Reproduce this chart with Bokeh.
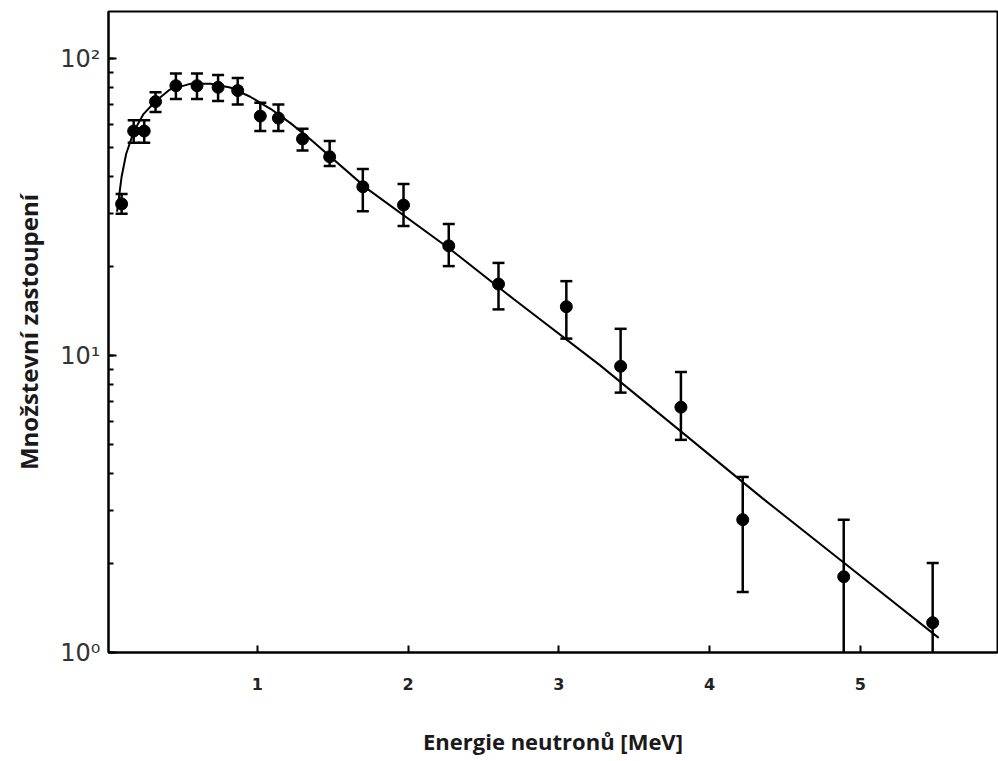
from bokeh.plotting import figure
from bokeh.models import ColumnDataSource, Range1d, FixedTicker, LogTicker, Whisker, TeeHead
from bokeh.embed import file_html
from bokeh.resources import INLINE

# measured points (neutron energy in MeV, relative yield)
energy = [0.10, 0.18, 0.25, 0.325, 0.46, 0.60, 0.74, 0.87, 1.02, 1.14, 1.30, 1.48,
          1.70, 1.97, 2.27, 2.60, 3.05, 3.41, 3.81, 4.22, 4.89, 5.48]
yield_ = [32.4, 57, 57, 71.6, 81, 81, 80, 78, 64, 63, 53.6, 46.7,
          37.0, 32.1, 23.4, 17.4, 14.6, 9.2, 6.7, 2.8, 1.8, 1.26]
upper = [35, 62, 62, 77, 89, 89, 88, 86, 71, 70, 58, 52.8,
         42.5, 37.8, 27.7, 20.5, 17.8, 12.3, 8.8, 3.9, 2.8, 2.0]
lower = [30, 52, 52, 66, 73, 73, 72, 70, 57, 57, 49, 43.5,
         30.6, 27.3, 20.0, 14.3, 11.4, 7.5, 5.2, 1.6, 0.9, 0.9]

# fitted spectrum curve
curve_e = [0.07, 0.10, 0.13, 0.18, 0.245, 0.325, 0.42, 0.56, 0.69, 0.82, 0.95, 1.09,
           1.22, 1.35, 1.73, 2.28, 2.70, 3.27, 3.82, 4.35, 4.91, 5.52]
curve_n = [30.5, 40, 47.7, 56.7, 65, 71.8, 78.6, 82.3, 82.3, 79.9, 74.5, 67.6,
           60.6, 53.6, 36.4, 22.8, 15.5, 9.3, 5.5, 3.31, 1.97, 1.12]

x_ticks = [1, 2, 3, 4, 5]
y_tick_labels = {1: "10\u2070", 10: "10\u00b9", 100: "10\u00b2"}

src = ColumnDataSource(dict(x=energy, y=yield_, up=upper, lo=lower))

p = figure(width=998, height=761, y_axis_type="log",
           x_range=Range1d(0.013, 5.91), y_range=Range1d(1.0, 144),
           output_backend="svg", toolbar_location=None,
           min_border_left=108, min_border_right=1, min_border_top=11, min_border_bottom=109)
p.grid.visible = False
p.outline_line_color = "black"
p.outline_line_width = 2
p.background_fill_color = "white"
p.border_fill_color = "white"

p.line(curve_e, curve_n, line_color="black", line_width=2)

w = Whisker(source=src, base="x", upper="up", lower="lo", line_color="black", line_width=2.5,
            upper_head=TeeHead(size=12, line_color="black", line_width=2.5),
            lower_head=TeeHead(size=12, line_color="black", line_width=2.5))
p.add_layout(w)
p.scatter("x", "y", source=src, size=12, fill_color="black", line_color="black")

xa = p.xaxis[0]
xa.ticker = FixedTicker(ticks=x_ticks)
xa.axis_line_width = 2
xa.axis_line_color = "black"
xa.major_tick_in = 7
xa.major_tick_out = 0
xa.major_tick_line_width = 2
xa.minor_tick_line_color = None
xa.major_label_standoff = 25
xa.major_label_text_font = "DejaVu Sans"
xa.major_label_text_font_style = "bold"
xa.major_label_text_font_size = "16px"
xa.major_label_text_color = "#222222"
xa.axis_label = "Energie neutronů [MeV]"
xa.axis_label_standoff = 33
xa.axis_label_text_font = "Open Sans"
xa.axis_label_text_font_style = "bold"
xa.axis_label_text_font_size = "22px"
xa.axis_label_text_color = "#1a1a1a"

ya = p.yaxis[0]
ya.ticker = LogTicker(num_minor_ticks=10)
ya.major_label_overrides = y_tick_labels
ya.axis_line_width = 2
ya.axis_line_color = "black"
ya.major_tick_in = 8
ya.major_tick_out = 0
ya.major_tick_line_width = 2
ya.minor_tick_in = 5
ya.minor_tick_out = 0
ya.minor_tick_line_width = 2
ya.major_label_standoff = 8
ya.major_label_text_font = "DejaVu Sans"
ya.major_label_text_font_size = "24px"
ya.major_label_text_color = "#333333"
ya.axis_label = "Množstevní zastoupení"
ya.axis_label_standoff = 12
ya.axis_label_text_font = "Open Sans"
ya.axis_label_text_font_style = "bold"
ya.axis_label_text_font_size = "24px"
ya.axis_label_text_color = "#1a1a1a"

open("out.html", "w").write(file_html(p, INLINE))
